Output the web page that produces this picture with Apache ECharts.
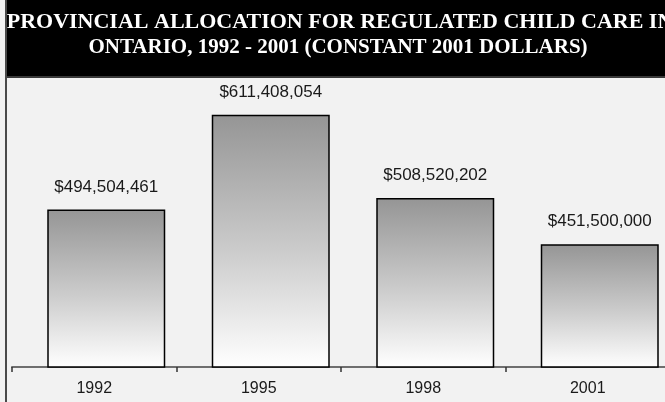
<!DOCTYPE html>
<html><head><meta charset="utf-8">
<script src="https://cdn.jsdelivr.net/npm/echarts@6/dist/echarts.min.js"></script>
<style>html,body{margin:0;padding:0;background:#f2f2f2;overflow:hidden;width:665px;height:402px;}#c{width:700px;height:402px;}</style>
</head><body><div id="c"></div>
<script>
const categories = ['1992', '1995', '1998', '2001'];
const allocations = [494504461, 611408054, 508520202, 451500000];
const titleLines = ['PROVINCIAL ALLOCATION FOR REGULATED CHILD CARE IN', 'ONTARIO, 1992 - 2001 (CONSTANT 2001 DOLLARS)'];

function fmt(v){ return '$' + String(v).replace(/\B(?=(\d{3})+(?!\d))/g, ','); }

const chart = echarts.init(document.getElementById('c'), null, {renderer:'canvas'});
chart.setOption({
  backgroundColor: '#f2f2f2',
  animation: false,
  grid: [
    {left: 12, width: 658, top: 43, height: 324},
    {left: 24, width: 658, top: 43, height: 324}
  ],
  xAxis: [
    {type:'category', gridIndex:0, data: categories,
     axisLine:{show:true, lineStyle:{color:'#6e6e6e', width:2}},
     axisTick:{show:true, length:5, lineStyle:{color:'#333', width:1.5}},
     axisLabel:{color:'#1a1a1a', fontSize:16, fontFamily:'Liberation Sans, Arial', margin:14}},
    {type:'category', gridIndex:1, data: categories, show:false}
  ],
  yAxis: [
    {type:'value', gridIndex:0, min:300000000, max:700000000, show:false},
    {type:'value', gridIndex:1, min:300000000, max:700000000, show:false}
  ],
  series: [{
    type:'bar', xAxisIndex:1, yAxisIndex:1, data: allocations, barWidth:118,
    itemStyle:{
      color: new echarts.graphic.LinearGradient(0,0,0,1,[
        {offset:0, color:'#959595'},{offset:0.55, color:'#cdcdcd'},{offset:1, color:'#ffffff'}]),
      borderColor:'#000', borderWidth:1.5
    },
    label:{show:true, position:'top', distance:14, color:'#1a1a1a', fontSize:17,
      fontFamily:'Liberation Sans, Arial', formatter: p => fmt(p.value)}
  }],
  graphic: [
    {type:'rect', left:0, top:0, z:100, shape:{width:700, height:76}, style:{fill:'#000'}},
    {type:'rect', left:0, top:76, z:100, shape:{width:700, height:2}, style:{fill:'#3a3a3a'}},
    {type:'rect', left:5, top:0, z:101, shape:{width:2, height:402}, style:{fill:'#4a4a4a'}},
    {type:'rect', left:0, top:0, z:101, shape:{width:5, height:402}, style:{fill:'#f2f2f2'}},
    {type:'text', z:102, x:340, y:22, style:{text:titleLines[0], fill:'#fff', font:'bold 22px "Liberation Serif", "Times New Roman", serif', textAlign:'center', textVerticalAlign:'middle'}},
    {type:'text', z:102, x:338, y:48, style:{text:titleLines[1], fill:'#fff', font:'bold 21px "Liberation Serif", "Times New Roman", serif', textAlign:'center', textVerticalAlign:'middle'}}
  ]
});
</script></body></html>
